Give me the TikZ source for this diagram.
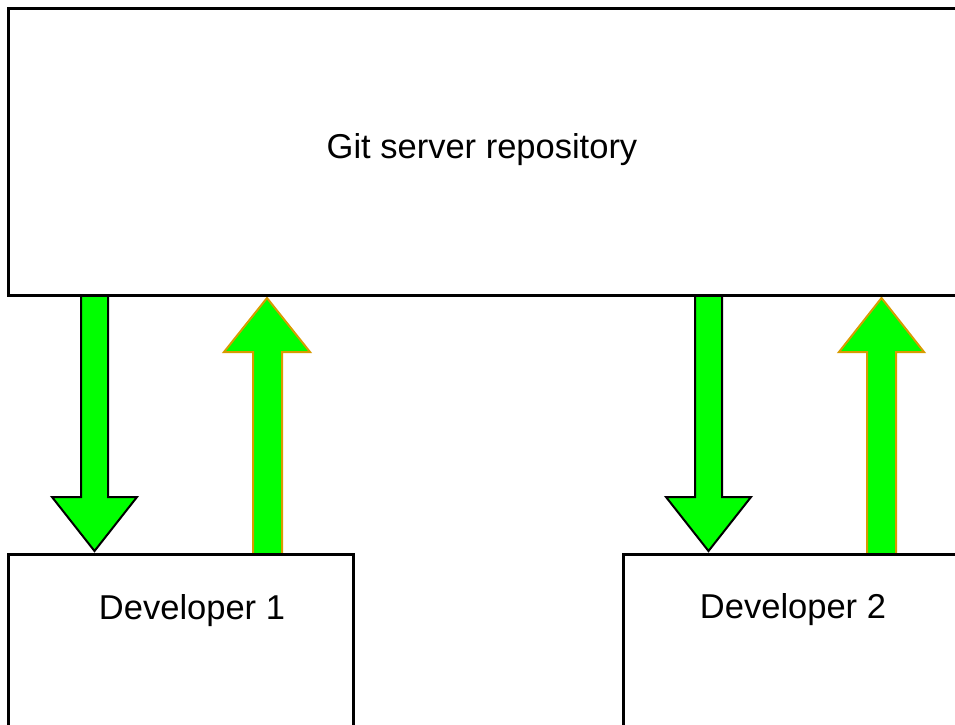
\documentclass[tikz,border=0pt]{standalone}
\usepackage{fontspec}
\setmainfont{Liberation Sans}
\definecolor{arrowgreen}{HTML}{00FF00}
\definecolor{pushorange}{HTML}{D79B00}
\tikzset{
  box/.style={draw=black, line width=3pt, fill=white},
  lbl/.style={anchor=base, inner sep=0pt, font=\fontsize{34.5}{40}\selectfont},
  pullarrow/.style={fill=arrowgreen, draw=black, line width=2pt, line join=miter},
  pusharrow/.style={fill=arrowgreen, draw=pushorange, line width=2pt, line join=miter},
}
\begin{document}
\begin{tikzpicture}[x=1pt, y=-1pt]
\useasboundingbox (0,0) rectangle (955,724);
\clip (0,0) rectangle (955,724);
% box corner coordinates
\coordinate (srvNW) at (8,8.5);
\coordinate (srvSE) at (990,295);
\coordinate (d1NW) at (8,554.5);
\coordinate (d1SE) at (353,760);
\coordinate (d2NW) at (623,554.5);
\coordinate (d2SE) at (990,760);
% block arrows (pull: server -> developer, push: developer -> server)
\draw[pullarrow] (81,295) -- (108,295) -- (108,497) -- (137,497) -- (94.5,551)
  -- (52,497) -- (81,497) -- cycle;
\draw[pusharrow] (253,554) -- (282,554) -- (282,352) -- (310,352) -- (267,298)
  -- (224,352) -- (253,352) -- cycle;
\draw[pullarrow] (695,295) -- (722,295) -- (722,497) -- (751,497) -- (708.5,551)
  -- (666,497) -- (695,497) -- cycle;
\draw[pusharrow] (867,554) -- (896,554) -- (896,352) -- (924,352) -- (881.5,298)
  -- (839,352) -- (867,352) -- cycle;
% boxes
\draw[box] (srvNW) rectangle (srvSE);
\draw[box] (d1NW) rectangle (d1SE);
\draw[box] (d2NW) rectangle (d2SE);
% labels
\node[lbl] (srv) at (482,158) {Git server repository};
\node[lbl] (dev1) at (192,619) {Developer 1};
\node[lbl] (dev2) at (793,618) {Developer 2};
\end{tikzpicture}
\end{document}
